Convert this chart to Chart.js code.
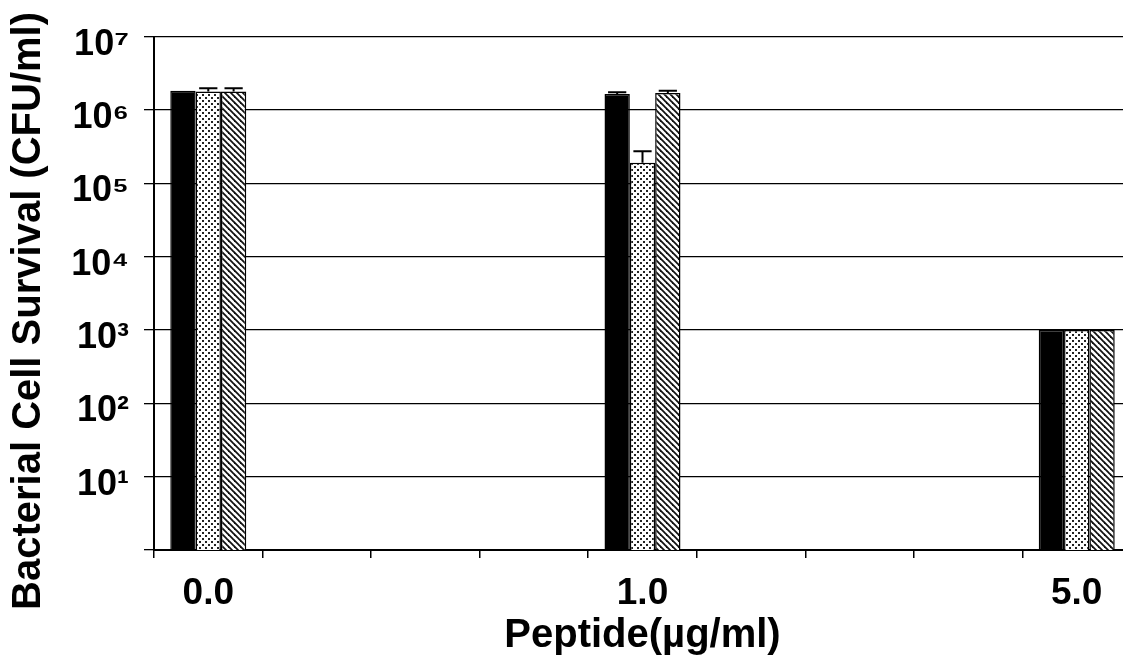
<!DOCTYPE html>
<html>
<head>
<meta charset="utf-8">
<script src="https://cdn.jsdelivr.net/npm/chart.js@4/dist/chart.umd.min.js"></script>
<style>
  html, body { margin: 0; padding: 0; background: #fff; overflow: hidden; }
  #wrap { width: 1140px; height: 660px; }
</style>
</head>
<body>
<div id="wrap"><canvas id="c" width="1140" height="660"></canvas></div>
<script>
// ---- data ----
const categories = ['0.0', '', '', '', '1.0', '', '', '', '5.0'];
const seriesNames = ['Series A', 'Series B', 'Series C'];
const blackValues   = [1.83e6, null, null, null, 1.65e6, null, null, null, 1000];
const dottedValues  = [1.79e6, null, null, null, 1.91e5, null, null, null, 1000];
const hatchedValues = [1.79e6, null, null, null, 1.70e6, null, null, null, 1000];
const blackErrors   = [0,      null, null, null, 0.09e6, null, null, null, 0];
const dottedErrors  = [0.18e6, null, null, null, 0.82e5, null, null, null, 0];
const hatchedErrors = [0.18e6, null, null, null, 0.13e6, null, null, null, 0];
const yTickValues = [1, 10, 100, 1e3, 1e4, 1e5, 1e6, 1e7];
const yTickLabels = ['', '10\u00B9', '10\u00B2', '10\u00B3', '10\u2074', '10\u2075', '10\u2076', '10\u2077'];
const xTitle = 'Peptide(\u00B5g/ml)';
const yTitle = 'Bacterial Cell Survival (CFU/ml)';

// ---- patterns ----
function dotPattern() {
  const s = 6;
  const c = document.createElement('canvas');
  c.width = s; c.height = s;
  const g = c.getContext('2d');
  g.fillStyle = '#fff'; g.fillRect(0, 0, s, s);
  g.fillStyle = '#222';
  g.fillRect(1, 1, 2, 2);
  g.fillRect(4, 4, 2, 2);
  return g.createPattern(c, 'repeat');
}
function hatchPattern() {
  const s = 6;
  const c = document.createElement('canvas');
  c.width = s; c.height = s;
  const g = c.getContext('2d');
  g.fillStyle = '#fff'; g.fillRect(0, 0, s, s);
  g.strokeStyle = '#111'; g.lineWidth = 1.8;
  for (const k of [-s, 0, s]) {
    g.beginPath();
    g.moveTo(-1, -1 + k);
    g.lineTo(s + 1, s + 1 + k);
    g.stroke();
  }
  return g.createPattern(c, 'repeat');
}

const errorArrays = [blackErrors, dottedErrors, hatchedErrors];

const errorBarPlugin = {
  id: 'errorBars',
  afterDatasetsDraw(chart) {
    const ctx = chart.ctx;
    const yScale = chart.scales.y;
    ctx.save();
    ctx.strokeStyle = '#000';
    ctx.lineWidth = 2;
    chart.data.datasets.forEach((ds, i) => {
      const meta = chart.getDatasetMeta(i);
      const errs = errorArrays[i];
      meta.data.forEach((bar, j) => {
        const v = ds.data[j];
        const e = errs[j];
        if (v == null || !e) return;
        const yTop = yScale.getPixelForValue(v + e);
        const capW = bar.width * 0.72;
        ctx.beginPath();
        ctx.moveTo(bar.x, bar.y);
        ctx.lineTo(bar.x, yTop);
        ctx.moveTo(bar.x - capW / 2, yTop);
        ctx.lineTo(bar.x + capW / 2, yTop);
        ctx.stroke();
      });
    });
    ctx.restore();
  }
};

Chart.defaults.font.family = '"Liberation Sans", Arial, sans-serif';
Chart.defaults.color = '#000';

new Chart(document.getElementById('c'), {
  type: 'bar',
  data: {
    labels: categories,
    datasets: [
      { label: seriesNames[0], data: blackValues, backgroundColor: '#000', borderColor: '#000', borderWidth: 1.5 },
      { label: seriesNames[1], data: dottedValues, backgroundColor: dotPattern(), borderColor: '#000', borderWidth: 1.5 },
      { label: seriesNames[2], data: hatchedValues, backgroundColor: hatchPattern(), borderColor: '#000', borderWidth: 1.5 }
    ]
  },
  options: {
    responsive: false,
    animation: false,
    layout: { padding: { top: 12, left: 0, right: 9, bottom: 0 } },
    datasets: { bar: { categoryPercentage: 0.70, barPercentage: 1.0 } },
    plugins: {
      legend: { display: false },
      tooltip: { enabled: false },
      title: {
        display: true, text: yTitle, position: 'left', align: 'end', fullSize: true,
        color: '#000', font: { size: 40, weight: 'bold', lineHeight: 1.2 },
        padding: { top: 5, bottom: 0 }
      },
      subtitle: {
        display: true, text: '', position: 'top', fullSize: true,
        font: { size: 22, lineHeight: 1 }, padding: 0
      }
    },
    scales: {
      x: {
        type: 'category',
        offset: true,
        grid: { display: true, drawOnChartArea: false, drawTicks: true, tickLength: 8, color: '#000', lineWidth: 1.5, offset: true },
        border: { display: true, color: '#000', width: 2 },
        ticks: { color: '#000', font: { size: 37, weight: 'bold' }, padding: 14, autoSkip: false, maxRotation: 0 },
        title: { display: true, text: xTitle, color: '#000', font: { size: 40, weight: 'bold', lineHeight: 1.2 }, padding: { top: 0, bottom: 0 } },
        afterFit(s) { s.height = 110; }
      },
      y: {
        type: 'logarithmic',
        min: 1, max: 1e7,
        afterBuildTicks(axis) { axis.ticks = yTickValues.map(v => ({ value: v })); },
        grid: { color: '#000', lineWidth: 1.3, drawTicks: true, tickLength: 10 },
        border: { display: true, color: '#000', width: 2 },
        ticks: {
          color: '#000', font: { size: 36, weight: 'bold' }, padding: 15, labelOffset: 8,
          callback(value) { const k = yTickValues.indexOf(value); return k >= 0 ? yTickLabels[k] : ''; }
        },
        afterFit(s) { s.width = 101; }
      }
    }
  },
  plugins: [errorBarPlugin]
});
</script>
</body>
</html>
